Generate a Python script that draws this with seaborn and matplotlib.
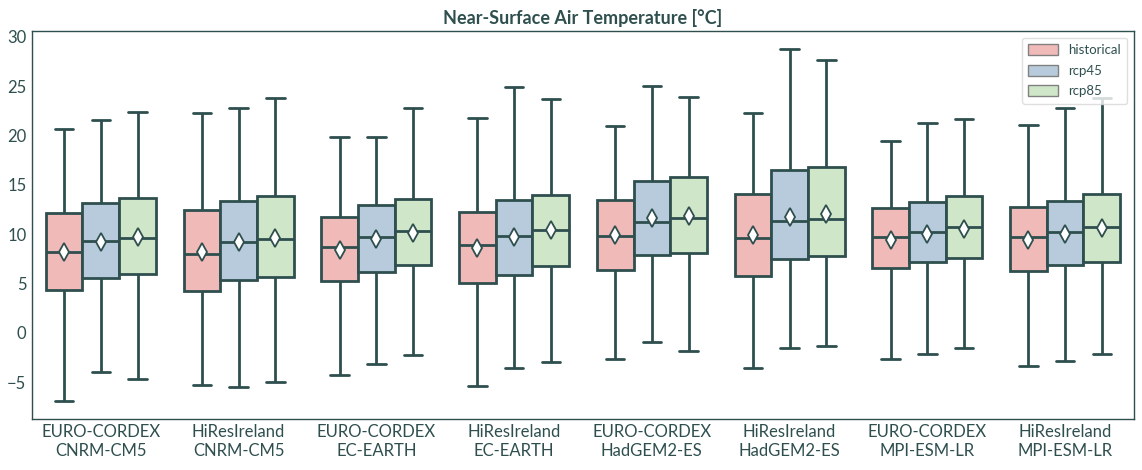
import numpy as np
import pandas as pd
import matplotlib
matplotlib.use("Agg")
import matplotlib.pyplot as plt
import seaborn as sns
from matplotlib.patches import Patch

# box statistics: whisker low, q1, median, q3, whisker high, mean
groups = ["EURO-CORDEX\nCNRM-CM5", "HiResIreland\nCNRM-CM5",
          "EURO-CORDEX\nEC-EARTH", "HiResIreland\nEC-EARTH",
          "EURO-CORDEX\nHadGEM2-ES", "HiResIreland\nHadGEM2-ES",
          "EURO-CORDEX\nMPI-ESM-LR", "HiResIreland\nMPI-ESM-LR"]
scenarios = ["historical", "rcp45", "rcp85"]

hist_low = [-6.9, -5.3, -4.3, -5.4, -2.6, -3.6, -2.6, -3.4]
hist_q1 = [4.4, 4.2, 5.3, 5.1, 6.4, 5.8, 6.6, 6.3]
hist_med = [8.2, 8.0, 8.7, 8.9, 9.8, 9.6, 9.7, 9.7]
hist_q3 = [12.2, 12.5, 11.8, 12.3, 13.5, 14.1, 12.7, 12.8]
hist_high = [20.7, 22.3, 19.9, 21.8, 21.0, 22.3, 19.5, 21.1]
hist_mean = [8.2, 8.2, 8.4, 8.6, 9.9, 9.9, 9.4, 9.4]

r45_low = [-4.0, -5.5, -3.1, -3.6, -0.9, -1.5, -2.1, -2.8]
r45_q1 = [5.6, 5.4, 6.2, 5.9, 7.9, 7.5, 7.2, 6.9]
r45_med = [9.3, 9.2, 9.7, 9.8, 11.2, 11.3, 10.2, 10.2]
r45_q3 = [13.2, 13.4, 13.0, 13.5, 15.4, 16.5, 13.3, 13.4]
r45_high = [21.6, 22.8, 19.9, 24.9, 25.0, 28.8, 21.3, 22.8]
r45_mean = [9.2, 9.2, 9.5, 9.7, 11.6, 11.8, 10.0, 10.0]

r85_low = [-4.7, -5.0, -2.2, -2.9, -1.8, -1.3, -1.5, -2.1]
r85_q1 = [6.0, 5.7, 6.9, 6.8, 8.1, 7.8, 7.6, 7.2]
r85_med = [9.6, 9.5, 10.3, 10.4, 11.6, 11.5, 10.7, 10.7]
r85_q3 = [13.7, 13.9, 13.6, 14.0, 15.8, 16.8, 13.9, 14.1]
r85_high = [22.4, 23.8, 22.8, 23.7, 23.9, 27.7, 21.7, 23.8]
r85_mean = [9.7, 9.6, 10.1, 10.4, 11.9, 12.1, 10.5, 10.6]

stats = {
    "historical": [hist_low, hist_q1, hist_med, hist_q3, hist_high],
    "rcp45": [r45_low, r45_q1, r45_med, r45_q3, r45_high],
    "rcp85": [r85_low, r85_q1, r85_med, r85_q3, r85_high],
}
means = {"historical": hist_mean, "rcp45": r45_mean, "rcp85": r85_mean}

# long tables: five values per box reproduce whiskers, quartiles and median exactly
rows = []
for sc in scenarios:
    for i, g in enumerate(groups):
        for arr in stats[sc]:
            rows.append({"group": g, "scenario": sc, "value": arr[i]})
df = pd.DataFrame(rows)
df_mean = pd.DataFrame([{"group": g, "scenario": sc, "value": means[sc][i]}
                        for sc in scenarios for i, g in enumerate(groups)])

dark = "#2f4f4f"
palette = {"historical": "#f0bab8", "rcp45": "#b8cbdc", "rcp85": "#d0e6c8"}

sns.set_theme(style="white")
plt.rcParams["font.family"] = ["Lato", "DejaVu Sans"]
plt.rcParams["text.color"] = dark
plt.rcParams["axes.labelcolor"] = dark
plt.rcParams["xtick.color"] = dark
plt.rcParams["ytick.color"] = dark
plt.rcParams["axes.edgecolor"] = dark

fig = plt.figure(figsize=(11.42, 4.70), dpi=100)
ax = fig.add_axes([0.028, 0.109, 0.965, 0.825])

sns.boxplot(data=df, x="group", y="value", hue="scenario", order=groups,
            hue_order=scenarios, palette=palette, saturation=1, whis=(0, 100),
            showfliers=False, width=0.8, linewidth=2, linecolor=dark,
            legend=False, ax=ax)

sns.pointplot(data=df_mean, x="group", y="value", hue="scenario", order=groups,
              hue_order=scenarios, palette={s: "white" for s in scenarios},
              dodge=0.8 * 2 / 3, linestyle="none", markers="d", errorbar=None,
              markersize=9, markeredgecolor=dark, markeredgewidth=1.3,
              legend=False, ax=ax, zorder=5)

ax.set_xlim(-0.5, 7.5)
ax.set_ylim(-8.7, 30.6)
ax.set_yticks([-5, 0, 5, 10, 15, 20, 25, 30])
ax.set_xlabel("")
ax.set_ylabel("")
ax.tick_params(axis="both", labelsize=12, length=0, pad=4)
for sp in ax.spines.values():
    sp.set_color(dark)
    sp.set_linewidth(1.0)

ax.set_title("Near-Surface Air Temperature [°C]", fontsize=13,
             fontweight="bold", color=dark, pad=5)

handles = [Patch(facecolor=palette[s], edgecolor="grey", linewidth=1) for s in scenarios]
leg = ax.legend(handles, scenarios, loc="upper right", fontsize=9.5,
                frameon=True, handlelength=2.2, handleheight=0.9,
                borderpad=0.5, labelspacing=0.65)
for t in leg.get_texts():
    t.set_color(dark)
leg.get_frame().set_edgecolor("#d8d8d8")
leg.set_zorder(10)

fig.savefig("out.png", dpi=100)
